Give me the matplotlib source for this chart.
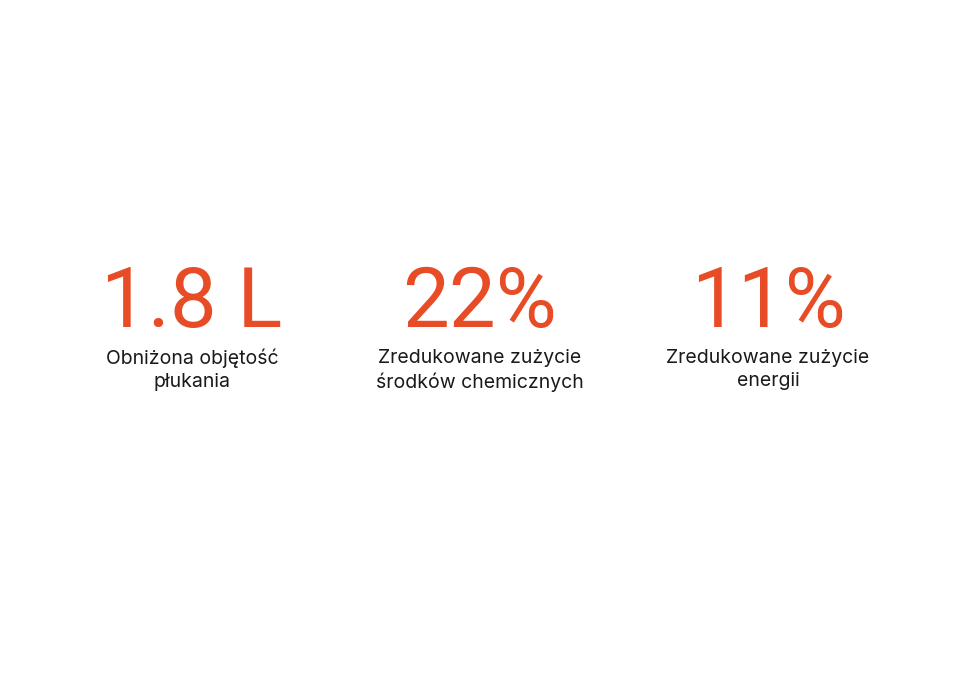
import matplotlib
matplotlib.use("Agg")
import matplotlib.pyplot as plt

values = ["1.8 L", "22%", "11%"]
labels = ["Obniżona objętość\npłukania", "Zredukowane zużycie\nśrodków chemicznych", "Zredukowane zużycie\nenergii"]
centers = [192, 480, 768]

fig = plt.figure(figsize=(9.6, 6.9), dpi=100)
fig.patch.set_facecolor("white")
W, H = 960, 690
for v, l, cx in zip(values, labels, centers):
    fig.text(cx / W, 1 - 327 / H, v, ha="center", va="baseline", fontsize=60,
             family=["Roboto", "DejaVu Sans"], fontweight="normal", color="#E84C26")
    fig.text(cx / W, 1 - 349 / H, l, ha="center", va="top", fontsize=14,
             family=["Inter", "DejaVu Sans"], color="#1a1a1a", linespacing=1.35)
fig.savefig("out.png", dpi=100, facecolor="white")
